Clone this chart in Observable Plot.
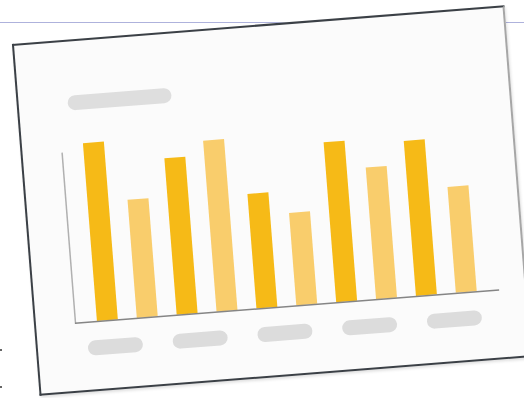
<!DOCTYPE html>
<html>
<head>
<meta charset="utf-8">
<script src="https://cdn.jsdelivr.net/npm/d3@7"></script>
<script src="https://cdn.jsdelivr.net/npm/@observablehq/plot@0.6"></script>
<style>
  html, body { margin: 0; padding: 0; background: #ffffff; overflow: hidden; width: 524px; height: 398px; }
  #topline { position: absolute; left: 0; top: 22px; width: 524px; height: 1px; background: #aeb2dc; }
  .dot { position: absolute; left: 0; width: 2px; height: 2px; background: #333; border-radius: 1px; }
  #card {
    position: absolute; left: 25.1px; top: 24.1px; width: 494px; height: 353px;
    box-sizing: border-box; border: 2px solid #3b4046; border-right-color: #a6a6a6;
    background: #fbfbfb; transform: rotate(-4.5deg); transform-origin: 50% 50%;
    box-shadow: 1px 2px 3px rgba(0,0,0,0.12);
  }
  #card svg { position: absolute; left: -2px; top: -2px; max-width: none !important; }
  #titlepill { position: absolute; left: 48.5px; top: 53.5px; width: 104px; height: 15px; border-radius: 7.5px; background: #dedede; }
</style>
</head>
<body>
<div id="topline"></div>
<div class="dot" style="top:348.5px"></div>
<div class="dot" style="top:386px"></div>
<div id="card"><div id="titlepill"></div></div>
<script>
// Data
const bars = ["1", "2", "3", "4", "5", "6", "7", "8", "9", "10"];
const values = [104.7, 69.5, 92.1, 100.6, 67.4, 54.4, 94.1, 77.4, 91.2, 62.3];
const seriesNames = ["Series A", "Series B"];
const barSeries = ["Series A", "Series B", "Series A", "Series B", "Series A", "Series B", "Series A", "Series B", "Series A", "Series B"];
const seriesColors = ["#f6ba17", "#f9cd6c"];
const labels = ["L1", "L2", "L3", "L4", "L5"];

const data = bars.map((b, i) => ({bar: b, value: values[i], series: barSeries[i]}));

const chart = Plot.plot({
  width: 494,
  height: 353,
  marginLeft: 41,
  marginRight: 27.6,
  marginTop: 112.5,
  marginBottom: 70,
  style: {background: "transparent", overflow: "visible", maxWidth: "none"},
  x: {domain: bars, paddingInner: 0.478, paddingOuter: 0.54, axis: null},
  y: {domain: [0, 100], axis: null},
  color: {domain: seriesNames, range: seriesColors},
  marks: [
    Plot.frame({anchor: "left", stroke: "#b0b0b0", strokeWidth: 1.5}),
    Plot.barY(data, {x: "bar", y: "value", fill: "series"}),
    Plot.ruleY([0], {stroke: "#858585", strokeWidth: 1.5})
  ]
});

const pills = Plot.plot({
  width: 494,
  height: 353,
  marginLeft: 35.5,
  marginRight: 31.5,
  marginTop: 302,
  marginBottom: 36,
  style: {background: "transparent", overflow: "visible", maxWidth: "none"},
  x: {domain: labels, paddingInner: 0.355, paddingOuter: 0.1775, axis: null},
  marks: [
    Plot.cell(labels, {x: d => d, fill: "#dcdcdc", rx: 7.5})
  ]
});

const card = document.getElementById("card");
card.appendChild(chart);
card.appendChild(pills);
</script>
</body>
</html>
